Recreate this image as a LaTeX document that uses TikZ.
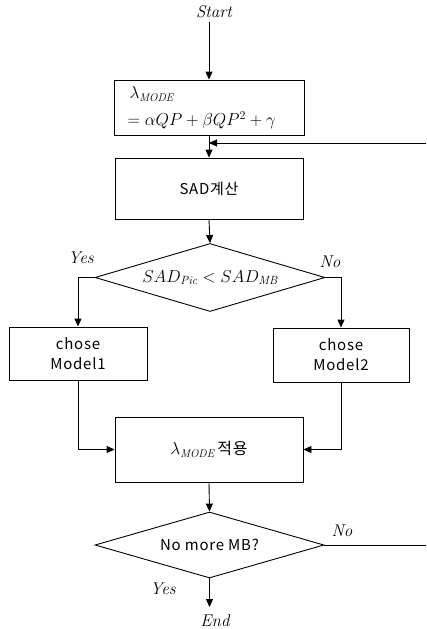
\documentclass[tikz,border=0pt]{standalone}
\usepackage{fontspec}
\newfontfamily\krfont[LetterSpace=5]{Noto Sans CJK KR}
\usetikzlibrary{shapes.geometric,arrows.meta}

\tikzset{
	box/.style={draw, line width=0.9pt, minimum width=188pt, minimum height=60pt, inner sep=0pt},
	decision/.style={draw, diamond, line width=0.9pt, aspect=3.3, inner sep=0pt, minimum width=230pt, minimum height=68pt},
	flow/.style={line width=0.9pt, ->},
	tag/.style={font=\fontsize{17}{19}\selectfont\itshape},
}

\begin{document}
\begin{tikzpicture}[x=1pt, y=-1pt, >={Triangle[length=8pt, width=7pt]}, font=\krfont\fontsize{15}{20}\selectfont]
		\useasboundingbox (0,0) rectangle (426,629);
		% main column
		\node[tag] (start) at (214, 12) {Start};
		\node[box, minimum width=190pt, minimum height=55pt] (lambda) at (209, 107.5) {};
		\node[anchor=west, font=\fontsize{16}{18}\selectfont] (lamtop) at (126, 94) {$\lambda_{\mathit{MODE}}$};
		\node[anchor=west, font=\fontsize{17.5}{19}\selectfont] (lamfit) at (124, 120) {$=\alpha QP+\beta QP^2+\gamma$};
		\node[box, minimum height=61pt] (sad) at (209, 188.5) {SAD계산};
		\node[decision] (cmp) at (210, 277.5) {\fontsize{17}{19}\selectfont$SAD_{\mathit{Pic}}<SAD_{\mathit{MB}}$};
		\node[box, minimum width=138pt, minimum height=53pt, align=center] (modelA) at (78, 353.5) {chose\\Model1};
		\node[box, minimum width=136pt, minimum height=54pt, align=center] (modelB) at (341, 355) {chose\\Model2};
		\node[box, minimum height=65pt] (apply) at (209, 449.5) {\fontsize{16}{18}\selectfont$\lambda_{\mathit{MODE}}$\,적용};
		\node[decision, minimum width=229pt, minimum height=66pt] (more) at (209.5, 545) {No more MB?};
		\node[tag] (finish) at (215, 621) {End};
		% labels
		\node[tag] (yesA) at (81, 258) {Yes};
		\node[tag] (noA) at (330, 262) {No};
		\node[tag] (noB) at (342, 531) {No};
		\node[tag] (yesB) at (163, 589) {Yes};
		% loop ends
		\coordinate (loopin) at (426, 143);
		\coordinate (loopout) at (426, 545);
		\coordinate (endtip) at (209.5, 607);
		% connectors
		\draw[flow] (lambda.north |- start.south) -- (lambda.north);
		\draw[flow] (lambda.south) -- (sad.north);
		\draw[flow] (loopin) -- (loopin -| lambda.south);
		\draw[flow] (sad.south) -- (cmp.north);
		\draw[flow] (cmp.west) -| (modelA.north);
		\draw[flow] (cmp.east) -| (modelB.north);
		\draw[flow] (modelA.south) |- (apply.west);
		\draw[flow] (modelB.south) |- (apply.east);
		\draw[flow] (apply.south) -- (more.north);
		\draw[flow] (more.south) -- (endtip);
		\draw[line width=0.9pt] (more.east) -- (loopout);
	\end{tikzpicture}
\end{document}
